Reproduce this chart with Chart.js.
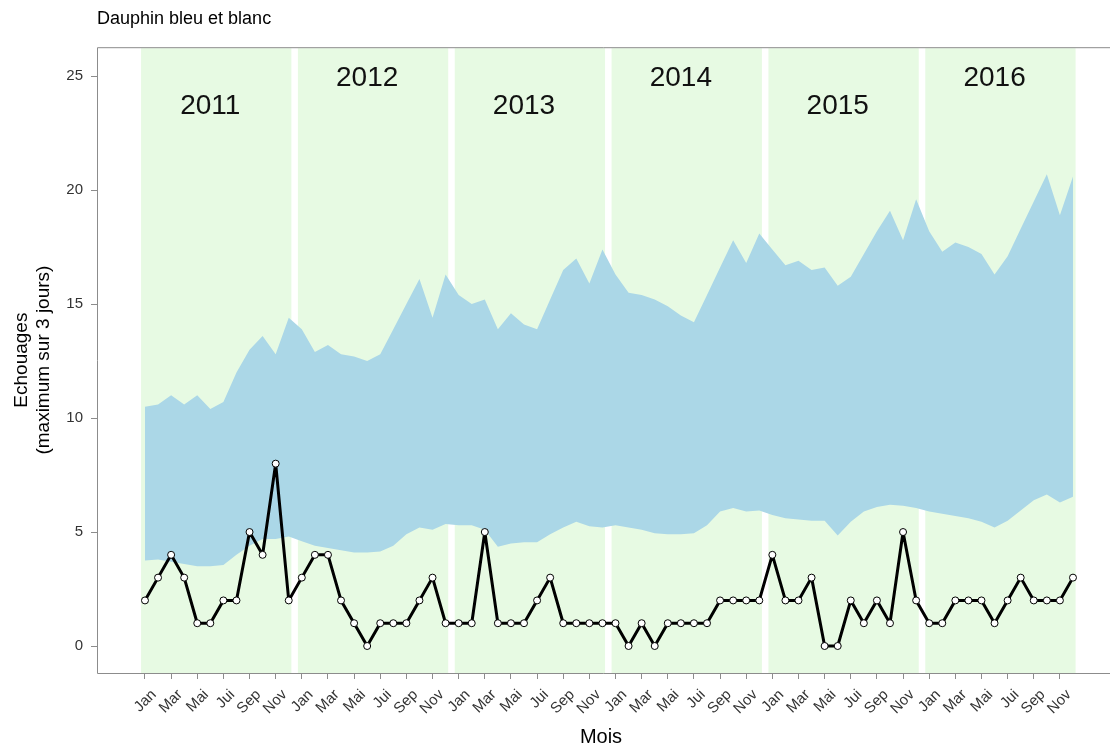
<!DOCTYPE html>
<html lang="fr">
<head>
<meta charset="UTF-8">
<title>Dauphin bleu et blanc</title>
<script src="https://cdn.jsdelivr.net/npm/chart.js@4.4.0/dist/chart.umd.min.js"></script>
<style>
    html, body { margin: 0; padding: 0; background: #fff; }
    #wrap { width: 1110px; height: 749px; }
</style>
</head>
<body>
<div id="wrap"><canvas id="chart" width="1110" height="749"></canvas></div>
<script>
    // données
    const years = [2011, 2012, 2013, 2014, 2015, 2016];
    const monthNames = ['Jan', 'Fév', 'Mar', 'Avr', 'Mai', 'Jun', 'Jui', 'Aoû', 'Sep', 'Oct', 'Nov', 'Déc'];
    const yTicks = [0, 5, 10, 15, 20, 25];

    // échouages (maximum sur 3 jours), un point par mois
    const echouages = [
        2, 3, 4, 3, 1, 1, 2, 2, 5, 4, 8, 2,
        3, 4, 4, 2, 1, 0, 1, 1, 1, 2, 3, 1,
        1, 1, 5, 1, 1, 1, 2, 3, 1, 1, 1, 1,
        1, 0, 1, 0, 1, 1, 1, 1, 2, 2, 2, 2,
        4, 2, 2, 3, 0, 0, 2, 1, 2, 1, 5, 2,
        1, 1, 2, 2, 2, 1, 2, 3, 2, 2, 2, 3
    ];

    // enveloppe attendue
    const bandeHaute = [
        10.5, 10.6, 11.0, 10.6, 11.0, 10.4, 10.7, 12.0, 13.0, 13.6, 12.8, 14.4,
        13.9, 12.9, 13.2, 12.8, 12.7, 12.5, 12.8, 13.9, 15.0, 16.1, 14.4, 16.3,
        15.4, 15.0, 15.2, 13.9, 14.6, 14.1, 13.9, 15.2, 16.5, 17.0, 15.9, 17.4,
        16.3, 15.5, 15.4, 15.2, 14.9, 14.5, 14.2, 15.4, 16.6, 17.8, 16.8, 18.1,
        17.4, 16.7, 16.9, 16.5, 16.6, 15.8, 16.2, 17.2, 18.2, 19.1, 17.8, 19.6,
        18.2, 17.3, 17.7, 17.5, 17.2, 16.3, 17.1, 18.3, 19.5, 20.7, 18.9, 20.6
    ];
    const bandeBasse = [
        3.75, 3.8, 3.7, 3.6, 3.5, 3.5, 3.55, 4.0, 4.4, 4.7, 4.7, 4.8,
        4.6, 4.4, 4.3, 4.2, 4.1, 4.1, 4.15, 4.4, 4.9, 5.2, 5.1, 5.35,
        5.3, 5.3, 5.1, 4.35, 4.5, 4.55, 4.55, 4.9, 5.2, 5.45, 5.25, 5.2,
        5.3, 5.2, 5.1, 4.95, 4.9, 4.9, 4.95, 5.3, 5.9, 6.05, 5.9, 5.95,
        5.75, 5.6, 5.55, 5.5, 5.5, 4.85, 5.45, 5.9, 6.1, 6.2, 6.15, 6.05,
        5.9, 5.8, 5.7, 5.6, 5.45, 5.2, 5.5, 5.95, 6.4, 6.65, 6.3, 6.55
    ];

    const police = "'Liberation Sans', Arial, sans-serif";
    const gris = '#8c8c8c';
    const toXY = arr => arr.map((v, i) => ({x: i, y: v}));
    const moisTicks = echouages.map((v, i) => i).filter(i => i % 2 === 0);

    // fond vert par année, étiquettes et cadre
    const anneesPlugin = {
        id: 'annees',
        beforeDatasetsDraw(chart) {
            const {ctx, chartArea: a, scales: {x}} = chart;
            ctx.save();
            ctx.fillStyle = '#e7fae3';
            years.forEach((yr, k) => {
                const x0 = x.getPixelForValue(k * 12 - 0.3);
                const x1 = x.getPixelForValue(k * 12 + 11.2);
                ctx.fillRect(x0, a.top + 1, x1 - x0, a.bottom - a.top - 1);
            });
            ctx.restore();
        },
        afterDatasetsDraw(chart) {
            const {ctx, scales: {x, y}} = chart;
            ctx.save();
            ctx.fillStyle = '#111';
            ctx.font = '28px ' + police;
            ctx.textAlign = 'center';
            ctx.textBaseline = 'middle';
            years.forEach((yr, k) => {
                const px = x.getPixelForValue(k * 12 + 5);
                const py = y.getPixelForValue(k % 2 ? 24.9 : 23.7);
                ctx.fillText(String(yr), px, py);
            });
            ctx.restore();
        },
        afterDraw(chart) {
            // cadre ouvert à droite (sort de l'image)
            const {ctx, chartArea: a} = chart;
            ctx.save();
            ctx.strokeStyle = gris;
            ctx.lineWidth = 1;
            ctx.beginPath();
            ctx.moveTo(chart.width, a.bottom + 0.5);
            ctx.lineTo(a.left + 0.5, a.bottom + 0.5);
            ctx.lineTo(a.left + 0.5, a.top + 0.5);
            ctx.lineTo(chart.width, a.top + 0.5);
            ctx.stroke();
            ctx.restore();
        }
    };

    new Chart(document.getElementById('chart'), {
        type: 'line',
        data: {
            datasets: [{
                label: 'basse',
                data: toXY(bandeBasse),
                borderWidth: 0,
                pointRadius: 0,
                fill: false,
                order: 2
            }, {
                label: 'haute',
                data: toXY(bandeHaute),
                borderWidth: 0,
                pointRadius: 0,
                backgroundColor: 'rgb(171,215,231)',
                fill: '-1',
                order: 1
            }, {
                label: 'Echouages',
                data: toXY(echouages),
                borderColor: '#000',
                borderWidth: 3,
                borderJoinStyle: 'round',
                pointRadius: 3.5,
                pointBackgroundColor: '#fff',
                pointBorderColor: '#000',
                pointBorderWidth: 1,
                tension: 0,
                fill: false,
                order: 0
            }]
        },
        options: {
            responsive: false,
            animation: false,
            layout: { padding: { top: 1.6, right: 0, left: 0, bottom: 0 } },
            plugins: {
                legend: { display: false },
                tooltip: { enabled: false },
                title: {
                    display: true,
                    text: 'Dauphin bleu et blanc',
                    align: 'start',
                    fullSize: false,
                    color: '#000',
                    font: { family: police, size: 18, weight: 'normal', lineHeight: 1.2 },
                    padding: { top: 7, bottom: 17 }
                }
            },
            scales: {
                x: {
                    type: 'linear',
                    min: -3.67,
                    max: 73.45,
                    afterBuildTicks: s => { s.ticks = moisTicks.map(v => ({value: v})); },
                    afterFit: s => { s.height = 76; },
                    grid: { drawOnChartArea: false, drawTicks: true, tickLength: 6, color: gris },
                    border: { display: false },
                    ticks: {
                        minRotation: 45,
                        maxRotation: 45,
                        autoSkip: false,
                        padding: 7,
                        labelOffset: 9,
                        color: '#333',
                        font: { family: police, size: 15 },
                        callback: v => monthNames[v % 12]
                    },
                    title: {
                        display: true,
                        text: 'Mois',
                        color: '#000',
                        font: { family: police, size: 20, lineHeight: 1.2 },
                        padding: { top: 0, bottom: 0 }
                    }
                },
                y: {
                    min: -1.184,
                    max: 26.27,
                    afterBuildTicks: s => { s.ticks = yTicks.map(v => ({value: v})); },
                    afterFit: s => { s.width = 97; },
                    grid: { drawOnChartArea: false, drawTicks: true, tickLength: 6, color: gris },
                    border: { display: false },
                    ticks: {
                        padding: 8,
                        color: '#333',
                        font: { family: police, size: 15 }
                    },
                    title: {
                        display: true,
                        text: ['Echouages', '(maximum sur 3 jours)'],
                        color: '#000',
                        font: { family: police, size: 19, lineHeight: 1.16 },
                        padding: { top: 11, bottom: 0 }
                    }
                }
            }
        },
        plugins: [anneesPlugin]
    });
</script>
</body>
</html>
